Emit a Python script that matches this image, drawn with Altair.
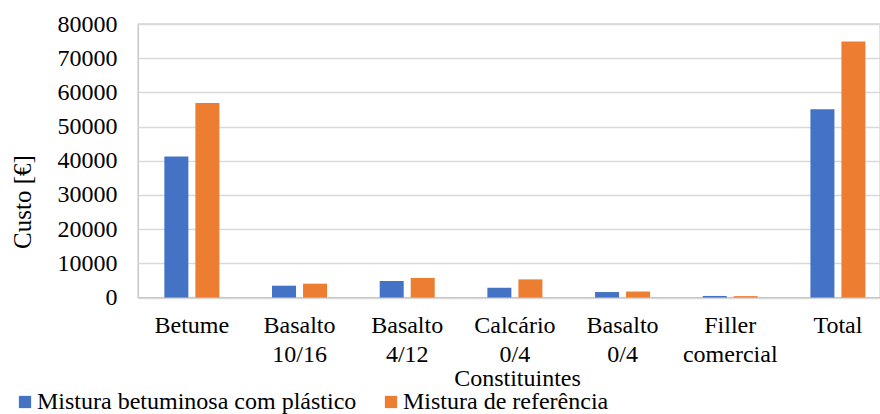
import altair as alt
import pandas as pd

# Cost per constituent for the two asphalt mixtures
categories = ["Betume", "Basalto 10/16", "Basalto 4/12", "Calcário 0/4",
              "Basalto 0/4", "Filler comercial", "Total"]
series_names = ["Mistura betuminosa com plástico", "Mistura de referência"]
custo_plastico = [41250, 3450, 4800, 2850, 1600, 450, 55050]
custo_referencia = [56900, 4050, 5700, 5300, 1750, 400, 74900]
y_ticks = [0, 10000, 20000, 30000, 40000, 50000, 60000, 70000, 80000]
colors = ["#4472C4", "#ED7D31"]

rows = []
for cat, a, b in zip(categories, custo_plastico, custo_referencia):
    rows.append({"Constituinte": cat, "Mistura": series_names[0], "Custo": a})
    rows.append({"Constituinte": cat, "Mistura": series_names[1], "Custo": b})
df = pd.DataFrame(rows)

FONT = "Liberation Serif"

chart = (
    alt.Chart(df)
    .mark_bar()
    .encode(
        x=alt.X(
            "Constituinte:N",
            sort=categories,
            scale=alt.Scale(paddingInner=0.489, paddingOuter=0.19, align=0.644),
            axis=alt.Axis(
                title="Constituintes",
                labelAngle=0,
                labelExpr="split(datum.label, ' ')",
                labelLineHeight=28.5,
                labelBaseline="top",
                labelPadding=16,
                ticks=False,
                domain=False,
                titleX=379,
                titleY=87.5,
                titleAlign="center",
                titleBaseline="alphabetic",
            ),
        ),
        xOffset=alt.XOffset(
            "Mistura:N",
            sort=series_names,
            scale=alt.Scale(paddingInner=0.226, paddingOuter=0),
        ),
        y=alt.Y(
            "Custo:Q",
            scale=alt.Scale(domain=[0, 80000], nice=False),
            axis=alt.Axis(
                title="Custo [€]",
                values=y_ticks,
                format="d",
                ticks=False,
                domain=False,
                grid=True,
                gridColor="#d9d9d9",
                gridWidth=1.3,
                labelPadding=21,
                titleX=-116,
                titleY=177.5,
                titleAngle=270,
                titleAlign="center",
                titleBaseline="middle",
                titleFontSize=25,
            ),
        ),
        color=alt.Color(
            "Mistura:N",
            sort=series_names,
            scale=alt.Scale(domain=series_names, range=colors),
            legend=alt.Legend(
                title=None,
                orient="none",
                direction="horizontal",
                legendX=-125,
                legendY=366,
                symbolType="square",
                symbolSize=150,
                symbolStrokeWidth=0,
                labelOffset=0,
                labelLimit=0,
                columnPadding=22,
                labelFontSize=24,
                labelFont=FONT,
                labelColor="black",
            ),
        ),
    )
    .properties(
        width=742,
        height=273.5,
        background="white",
        autosize=alt.AutoSizeParams(type="none"),
        padding={"left": 138, "top": 24, "right": 0, "bottom": 116.5},
    )
    .configure_view(stroke="#bfbfbf", strokeWidth=1.3)
    .configure_axis(
        labelFont=FONT,
        titleFont=FONT,
        labelFontSize=24,
        titleFontSize=24,
        labelColor="black",
        titleColor="black",
        titleFontWeight="normal",
    )
)

chart.save("out.html", embed_options={"renderer": "svg", "actions": False})
